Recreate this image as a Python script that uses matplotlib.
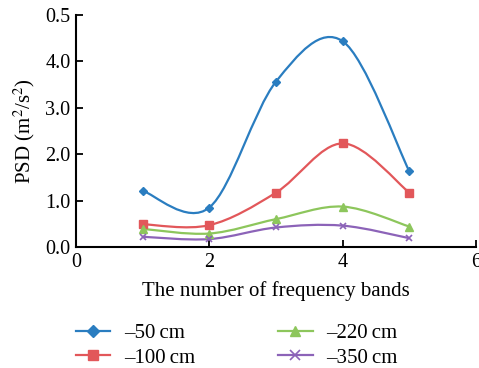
"""PSD versus number of frequency bands at four burial depths."""
import matplotlib

matplotlib.use("Agg")
import matplotlib.pyplot as plt
from matplotlib.lines import Line2D
from matplotlib.patches import PathPatch
from matplotlib.path import Path

plt.rcParams["font.family"] = ["Liberation Serif", "DejaVu Serif"]
plt.rcParams["mathtext.fontset"] = "stix"

BANDS = [1, 2, 3, 4, 5]
PSD_50 = [1.21, 0.85, 3.56, 4.43, 1.63]
PSD_100 = [0.49, 0.47, 1.17, 2.23, 1.17]
PSD_220 = [0.39, 0.29, 0.60, 0.87, 0.44]
PSD_350 = [0.22, 0.17, 0.42, 0.46, 0.19]

SERIES_LABELS = ["\u201350\u2009cm", "\u2013100\u2009cm", "\u2013220\u2009cm", "\u2013350\u2009cm"]
X_TICKS = [0, 2, 4, 6]
Y_TICKS = [0, 1, 2, 3, 4, 5]
Y_TICK_LABELS = ["0.0", "1.0", "2.0", "3.0", "4.0", "0.5"]

STYLES = [
    {"color": "#2a7dc0", "marker": "D", "ms": 4.5, "mew": 1.0},
    {"color": "#e2575a", "marker": "s", "ms": 6.0, "mew": 1.0},
    {"color": "#8dc65c", "marker": "^", "ms": 6.0, "mew": 1.0},
    {"color": "#8c63b8", "marker": "x", "ms": 5.0, "mew": 1.2},
]


def smooth_path(xs, ys):
    # cubic Bezier through every point, control points from neighbouring points
    pts = list(zip(xs, ys))
    verts = [pts[0]]
    codes = [Path.MOVETO]
    n = len(pts)
    for i in range(n - 1):
        p0 = pts[max(i - 1, 0)]
        p1 = pts[i]
        p2 = pts[i + 1]
        p3 = pts[min(i + 2, n - 1)]
        c1 = (p1[0] + (p2[0] - p0[0]) / 6, p1[1] + (p2[1] - p0[1]) / 6)
        c2 = (p2[0] - (p3[0] - p1[0]) / 6, p2[1] - (p3[1] - p1[1]) / 6)
        verts += [c1, c2, p2]
        codes += [Path.CURVE4] * 3
    return Path(verts, codes)


fig = plt.figure(figsize=(4.79, 3.68), dpi=100)
ax = fig.add_axes([0.1587, 0.3288, 0.835, 0.6312])

handles = []
for values, label, st in zip([PSD_50, PSD_100, PSD_220, PSD_350], SERIES_LABELS, STYLES):
    ax.add_patch(PathPatch(smooth_path(BANDS, values), fill=False,
                           edgecolor=st["color"], linewidth=1.6, zorder=2))
    ax.plot(BANDS, values, linestyle="none", marker=st["marker"], ms=st["ms"],
            mew=st["mew"], color=st["color"], zorder=3)
    handles.append(Line2D([], [], color=st["color"], linewidth=1.6, marker=st["marker"],
                          ms=st["ms"] + 1.5, mew=st["mew"], label=label))

ax.set_xlim(0, 6)
ax.set_ylim(0, 5)
ax.set_xticks(X_TICKS)
ax.set_yticks(Y_TICKS)
ax.set_yticklabels(Y_TICK_LABELS)
for side in ("top", "right"):
    ax.spines[side].set_visible(False)
for side in ("left", "bottom"):
    ax.spines[side].set_linewidth(1.5)
ax.tick_params(direction="in", length=5, width=1.3, labelsize=14.5, pad=4)

ax.set_xlabel("The number of frequency bands", fontsize=15, labelpad=7)
ax.set_ylabel("PSD (m$^2$/s$^2$)", fontsize=15, labelpad=6)

fig.legend(handles=handles, loc="lower left", bbox_to_anchor=(0.119, -0.05), ncol=2,
           frameon=False, fontsize=15, handlelength=1.65, handletextpad=0.65,
           columnspacing=4.0, labelspacing=0.25)

fig.savefig("out.png", dpi=100)
